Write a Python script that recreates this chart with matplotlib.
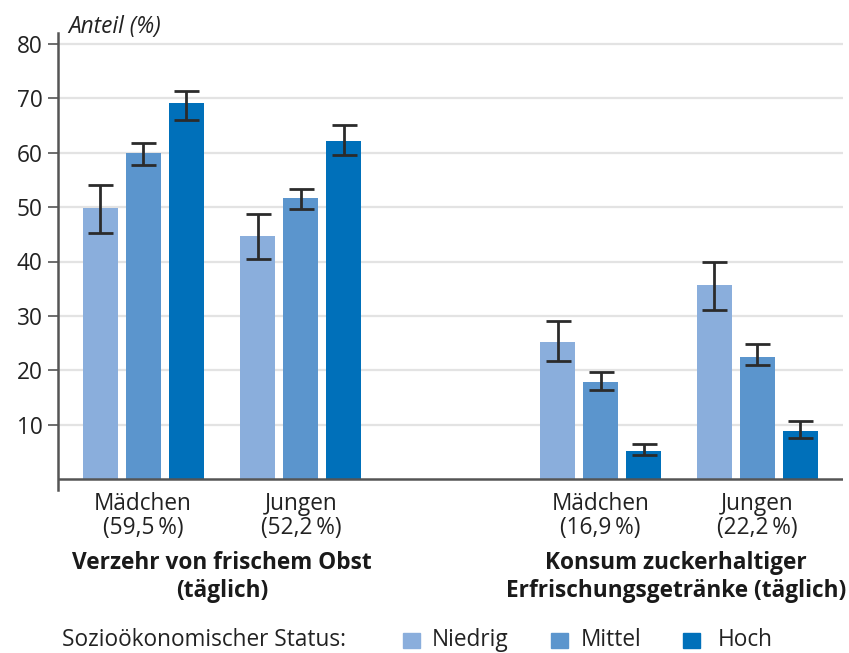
import matplotlib
matplotlib.use("Agg")
import matplotlib.pyplot as plt
import matplotlib.transforms as mtransforms
from matplotlib.patches import Rectangle
import numpy as np

plt.rcParams['font.family'] = ['Open Sans', 'DejaVu Sans']

# Data
group_labels = ["Mädchen\n(59,5\u2009%)", "Jungen\n(52,2\u2009%)",
                "Mädchen\n(16,9\u2009%)", "Jungen\n(22,2\u2009%)"]
status = ["Niedrig", "Mittel", "Hoch"]
values = {
    "Niedrig": [49.8, 44.7, 25.2, 35.7],
    "Mittel":  [59.9, 51.6, 17.8, 22.4],
    "Hoch":    [69.1, 62.1, 5.1, 8.8],
}
ci_low = {
    "Niedrig": [45.2, 40.4, 21.8, 31.1],
    "Mittel":  [57.7, 49.6, 16.4, 21.0],
    "Hoch":    [66.0, 59.6, 4.4, 7.6],
}
ci_high = {
    "Niedrig": [54.0, 48.8, 29.0, 39.9],
    "Mittel":  [61.8, 53.4, 19.6, 24.8],
    "Hoch":    [71.3, 65.1, 6.4, 10.7],
}
section_titles = ["Verzehr von frischem Obst\n(täglich)",
                  "Konsum zuckerhaltiger\nErfrischungsgetränke (täglich)"]
yticks = [10, 20, 30, 40, 50, 60, 70, 80]

colors = {"Niedrig": "#8AAEDC", "Mittel": "#5B95CD", "Hoch": "#0070BA"}
FS = 16.3

W, H = 849, 653
fig = plt.figure(figsize=(W / 100, H / 100), dpi=100)
ax_left, ax_right = 58, 843
ax_top, ax_bottom = 33, 490
ax = fig.add_axes([ax_left / W, 1 - ax_bottom / H,
                   (ax_right - ax_left) / W, (ax_bottom - ax_top) / H])

centers = np.array([0.0, 3.67, 10.64, 14.29])
offsets = {"Niedrig": -1.0, "Mittel": 0.0, "Hoch": 1.0}
bar_w = 0.81

for s in status:
    x = centers + offsets[s]
    v = np.array(values[s])
    lo = v - np.array(ci_low[s])
    hi = np.array(ci_high[s]) - v
    ax.bar(x, v, width=bar_w, color=colors[s], zorder=2)
    ax.errorbar(x, v, yerr=[lo, hi], fmt="none", ecolor="#2b2b2b",
                elinewidth=2, capsize=9, capthick=2, zorder=3)

ax.set_xlim(-1.98, 16.28)
ax.set_ylim(-2, 82)

# grid and baseline
for t in yticks:
    ax.axhline(t, color="#e3e3e3", lw=1.6, zorder=1)
ax.axhline(0, color="#555555", lw=1.8, zorder=4)

for sp in ["top", "right", "bottom"]:
    ax.spines[sp].set_visible(False)
ax.spines["left"].set_color("#555555")
ax.spines["left"].set_linewidth(1.8)

ax.set_yticks(yticks)
ax.set_yticklabels([str(t) for t in yticks], fontsize=FS, color="#222222")
ax.tick_params(axis="y", length=7, width=1.2, color="#555555", pad=4)

ax.set_xticks([])
trans = mtransforms.blended_transform_factory(ax.transData, fig.transFigure)
for c, lab in zip(centers, group_labels):
    ax.text(c, 1 - 516 / H, lab, transform=trans, ha="center", va="center",
            fontsize=FS, color="#222222", linespacing=1.0)

ax.text(68 / W, 1 - 27 / H, "Anteil (%)", transform=fig.transFigure,
        fontsize=FS, style="italic", va="center", ha="left", color="#222222")

title_shift = [0.0, -0.07]
for (a, b), title, dx in zip([(0, 1), (2, 3)], section_titles, title_shift):
    ax.text((centers[a] + centers[b]) / 2 + dx, 1 - 577 / H, title,
            transform=trans, ha="center", va="center", fontsize=FS,
            fontweight="bold", color="#1a1a1a", linespacing=1.2)

# legend row
ly = 1 - 640 / H
fig.text(62 / W, ly, "Sozioökonomischer Status:", fontsize=FS,
         va="center", ha="left", color="#222222")
legend_pos = {"Niedrig": (403, 432), "Mittel": (551, 581), "Hoch": (683, 718)}
for s in status:
    sx, tx = legend_pos[s]
    fig.patches.append(Rectangle((sx / W, 1 - 648 / H), 17 / W, 15 / H,
                                 transform=fig.transFigure, color=colors[s]))
    fig.text(tx / W, ly, s, fontsize=FS, va="center", ha="left", color="#222222")

fig.savefig("out.png", dpi=100)
